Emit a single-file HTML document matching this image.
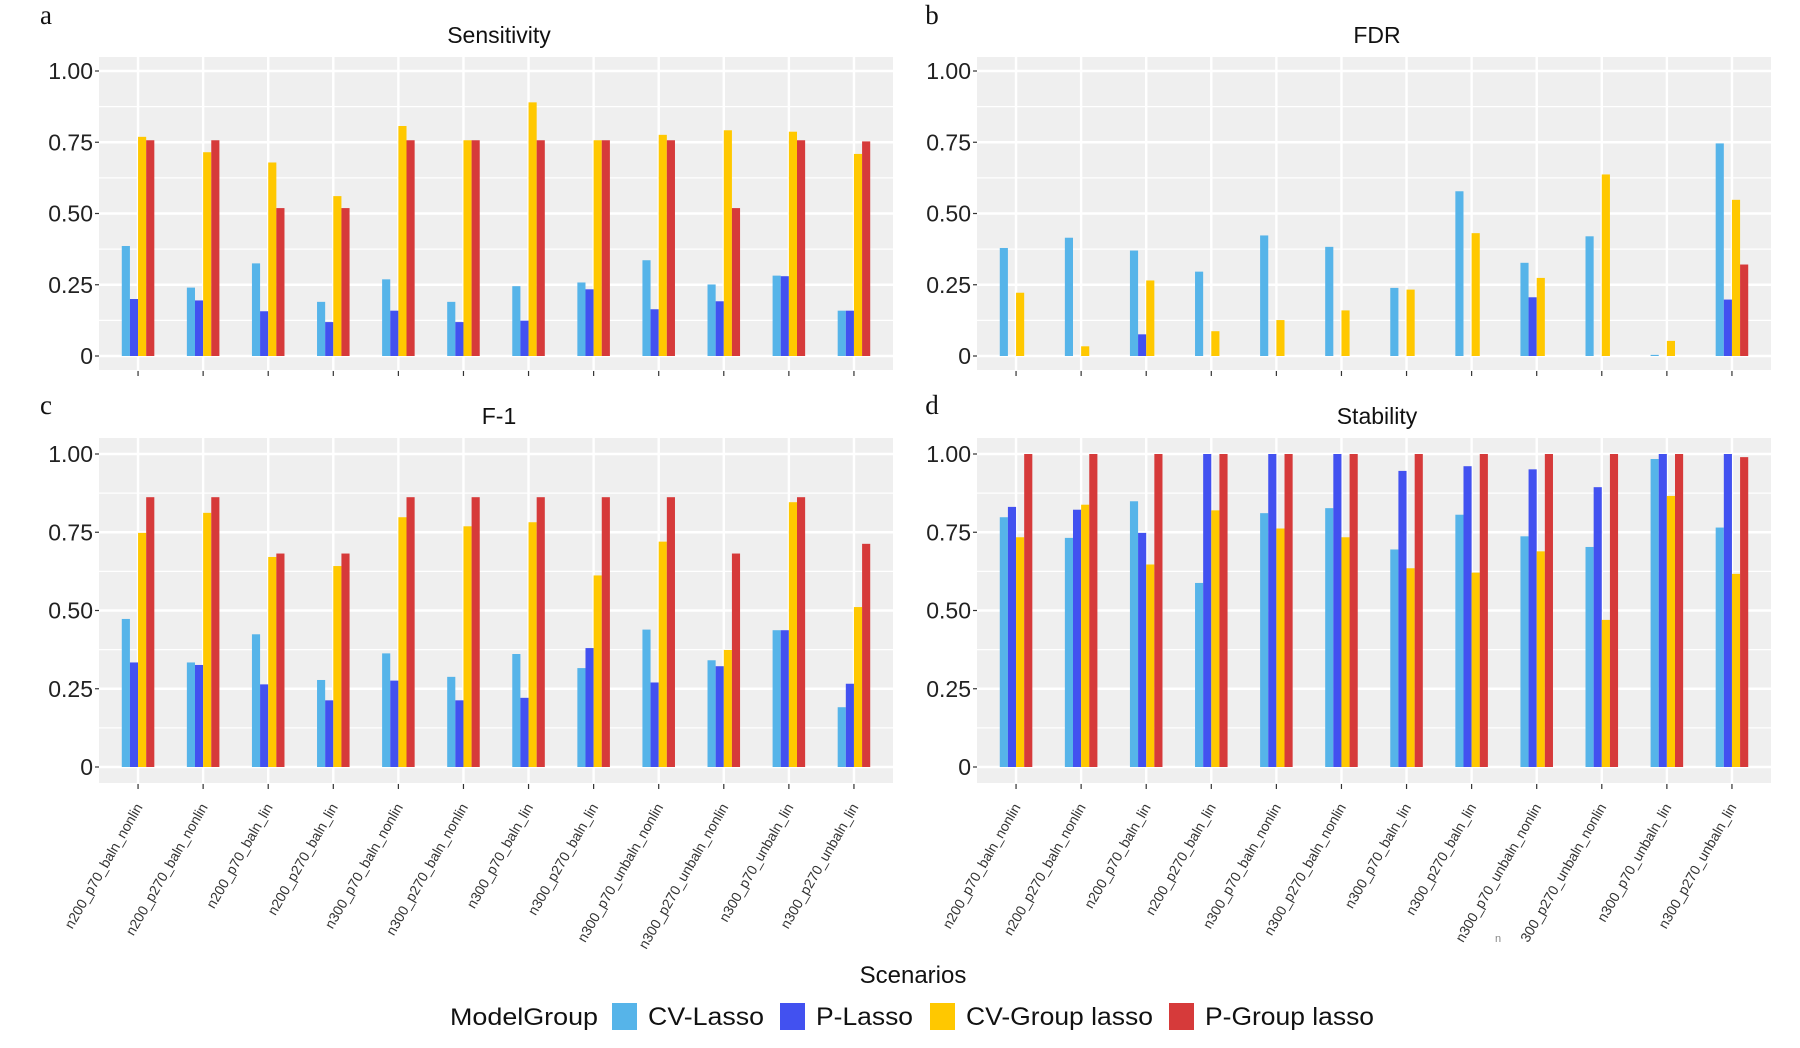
<!DOCTYPE html>
<html><head><meta charset="utf-8"><style>
html,body{margin:0;padding:0;background:#fff;}
svg{display:block;}
</style></head><body>
<svg id="chart" width="1800" height="1048" xmlns="http://www.w3.org/2000/svg"></svg>
<script>
const categories = ["n200_p70_baln_nonlin","n200_p270_baln_nonlin","n200_p70_baln_lin","n200_p270_baln_lin","n300_p70_baln_nonlin","n300_p270_baln_nonlin","n300_p70_baln_lin","n300_p270_baln_lin","n300_p70_unbaln_nonlin","n300_p270_unbaln_nonlin","n300_p70_unbaln_lin","n300_p270_unbaln_lin"];
const categoriesD = ["n200_p70_baln_nonlin","n200_p270_baln_nonlin","n200_p70_baln_lin","n200_p270_baln_lin","n300_p70_baln_nonlin","n300_p270_baln_nonlin","n300_p70_baln_lin","n300_p270_baln_lin","n300_p70_unbaln_nonlin","300_p270_unbaln_nonlin","n300_p70_unbaln_lin","n300_p270_unbaln_lin"];
const seriesNames = ["CV-Lasso","P-Lasso","CV-Group lasso","P-Group lasso"];
const yTicks = [0,0.25,0.5,0.75,1];
const yTickLabels = ["0","0.25","0.50","0.75","1.00"];
// Sensitivity
const sensCV  = [0.386,0.24,0.325,0.19,0.269,0.19,0.245,0.258,0.336,0.251,0.282,0.159];
const sensP   = [0.20,0.195,0.157,0.119,0.159,0.119,0.124,0.234,0.164,0.192,0.28,0.159];
const sensCVG = [0.769,0.715,0.679,0.561,0.807,0.757,0.89,0.757,0.776,0.792,0.787,0.709];
const sensPG  = [0.757,0.757,0.519,0.519,0.757,0.757,0.757,0.757,0.757,0.519,0.757,0.753];
// FDR
const fdrCV  = [0.379,0.415,0.37,0.296,0.423,0.383,0.239,0.578,0.327,0.42,0.004,0.746];
const fdrP   = [0,0,0.076,0,0,0,0,0,0.206,0,0,0.198];
const fdrCVG = [0.222,0.034,0.265,0.087,0.126,0.16,0.233,0.431,0.274,0.637,0.053,0.548];
const fdrPG  = [0,0,0,0,0,0,0,0,0,0,0,0.321];
// F-1
const f1CV  = [0.473,0.334,0.424,0.278,0.363,0.288,0.361,0.316,0.439,0.341,0.437,0.191];
const f1P   = [0.334,0.326,0.264,0.213,0.276,0.213,0.221,0.38,0.27,0.322,0.437,0.266];
const f1CVG = [0.748,0.812,0.671,0.642,0.798,0.769,0.782,0.612,0.72,0.374,0.846,0.511];
const f1PG  = [0.862,0.862,0.682,0.682,0.862,0.862,0.862,0.862,0.862,0.682,0.862,0.713];
// Stability
const stCV  = [0.798,0.732,0.849,0.588,0.811,0.827,0.695,0.806,0.737,0.703,0.984,0.765];
const stP   = [0.831,0.822,0.748,1,1,1,0.946,0.961,0.951,0.894,1,1];
const stCVG = [0.734,0.838,0.647,0.82,0.762,0.734,0.635,0.621,0.689,0.47,0.866,0.617];
const stPG  = [1,1,1,1,1,1,1,1,1,1,1,0.99];

const colors = ["#56B4E9","#4251F0","#FFC800","#D63A3A"];
const NS = "http://www.w3.org/2000/svg";
const svg = document.getElementById("chart");
function mk(tag, attrs, parent){
  const e = document.createElementNS(NS, tag);
  for (const k in attrs) e.setAttribute(k, attrs[k]);
  (parent||svg).appendChild(e);
  return e;
}
const NARROW = '"Liberation Sans Narrow","Liberation Sans",Arial,sans-serif';
const SANS = '"Liberation Sans",Arial,sans-serif';

function panel(cfg){
  const g = mk("g", {});
  
  
  const L=cfg.x0, R=cfg.x1, T=cfg.t, B=cfg.b;
  const bg = mk("rect",{x:L,y:T,width:R-L,height:B-T,fill:"#efefef"},g);
  
  
  const yScale = v => cfg.y0 + (cfg.y1-cfg.y0)*v;
  const step = (R-L)/(categories.length-1+1.2);
  const xScale = i => L + 0.6*step + i*step;
  for (let i=0;i<yTicks.length-1;i++){
    const v=(yTicks[i]+yTicks[i+1])/2;
    mk("line",{x1:L,x2:R,y1:yScale(v),y2:yScale(v),stroke:"#fff","stroke-width":1.2},g);
  }
  const topMinor = 1.125;
  if (yScale(topMinor) > T) mk("line",{x1:L,x2:R,y1:yScale(topMinor),y2:yScale(topMinor),stroke:"#fff","stroke-width":1.2},g);
  yTicks.forEach((v,i)=>{
    mk("line",{x1:L,x2:R,y1:yScale(v),y2:yScale(v),stroke:"#fff","stroke-width":2.4},g);
    mk("line",{x1:L-4,x2:L,y1:yScale(v),y2:yScale(v),stroke:"#333","stroke-width":1.2},g);
    const t = mk("text",{x:L-6,y:yScale(v)+8,"text-anchor":"end","font-family":NARROW,"font-size":23,fill:"#222"},g);
    t.textContent = yTickLabels[i];
    
    
  });
  categories.forEach((c,i)=>{
    mk("line",{x1:xScale(i),x2:xScale(i),y1:T,y2:B,stroke:"#fff","stroke-width":2.4},g);
    mk("line",{x1:xScale(i),x2:xScale(i),y1:B+1,y2:B+6,stroke:"#333","stroke-width":1.2},g);
  });
  const bw = step*0.5/4;
  cfg.series.forEach((arr,s)=>{
    arr.forEach((v,i)=>{
      const x = xScale(i) - step*0.25 + s*bw;
      const y = yScale(v);
      const r = mk("rect",{x:x,y:Math.min(y,cfg.y0),width:bw,height:Math.max(Math.abs(cfg.y0-y),0.01),fill:colors[s]},g);
      
      
    });
  });
  if (cfg.labels){
    cfg.labels.forEach((c,i)=>{
      const x = xScale(i)+5, y = B+24;
      const t = mk("text",{x:x,y:y,"text-anchor":"end","font-family":SANS,"font-size":14,fill:"#333",transform:`rotate(-60 ${x} ${y})`},g);
      t.textContent = c;
      
      
    });
  }
  const tt = mk("text",{x:(L+R)/2+3,y:T-14,"text-anchor":"middle","font-family":SANS,"font-size":23,fill:"#111"},g);
  tt.textContent = cfg.title;
  
  
  const lt = mk("text",{x:cfg.letterX,y:cfg.letterY,"text-anchor":"middle","font-family":'"Liberation Serif",serif',"font-size":27,fill:"#111"},g);
  lt.textContent = cfg.letter;
  
  
}
panel({name:"sensitivity",title:"Sensitivity",letter:"a",letterX:46,letterY:24,x0:99,x1:893,t:57,b:370,y0:356,y1:71,series:[sensCV,sensP,sensCVG,sensPG]});
panel({name:"fdr",title:"FDR",letter:"b",letterX:932,letterY:24,x0:977,x1:1771,t:57,b:370,y0:356,y1:71,series:[fdrCV,fdrP,fdrCVG,fdrPG]});
panel({name:"f1",title:"F-1",letter:"c",letterX:46,letterY:414,x0:99,x1:893,t:438,b:783,y0:767,y1:454,series:[f1CV,f1P,f1CVG,f1PG],labels:categories});
panel({name:"stability",title:"Stability",letter:"d",letterX:932,letterY:414,x0:977,x1:1771,t:438,b:783,y0:767,y1:454,series:[stCV,stP,stCVG,stPG],labels:categoriesD});

const stray = mk("text",{x:1498,y:942,"font-family":SANS,"font-size":11,fill:"#888","text-anchor":"middle"});
stray.textContent = "n";



const xt = mk("text",{x:913,y:983,"text-anchor":"middle","font-family":SANS,"font-size":24,fill:"#111"});
xt.textContent = "Scenarios";



const lg = mk("g",{});


const lgTitle = mk("text",{x:450,y:1025,"font-family":SANS,"font-size":24,fill:"#111",textLength:148,lengthAdjust:"spacingAndGlyphs"},lg);
lgTitle.textContent = "ModelGroup";


const keyX = [612,780,930,1169];
const keyTextW = [116,97,187,169];
seriesNames.forEach((n,s)=>{
  const e = mk("g",{},lg);
  
  
  mk("rect",{x:keyX[s],y:1003,width:25,height:27,fill:colors[s]},e);
  const t = mk("text",{x:keyX[s]+36,y:1025,"font-family":SANS,"font-size":25,fill:"#111",textLength:keyTextW[s],lengthAdjust:"spacingAndGlyphs"},e);
  t.textContent = n;
});
</script>
</body></html>
